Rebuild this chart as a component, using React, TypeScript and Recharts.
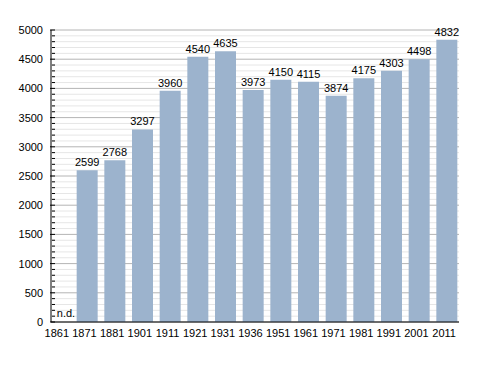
import React from "react";
import { BarChart, Bar, XAxis, YAxis, CartesianGrid, LabelList, ReferenceDot } from "recharts";

const years = ["1861", "1871", "1881", "1901", "1911", "1921", "1931", "1936", "1951", "1961", "1971", "1981", "1991", "2001", "2011"];
const population = [0, 2599, 2768, 3297, 3960, 4540, 4635, 3973, 4150, 4115, 3874, 4175, 4303, 4498, 4832];
const barLabels = ["n.d.", "2599", "2768", "3297", "3960", "4540", "4635", "3973", "4150", "4115", "3874", "4175", "4303", "4498", "4832"];
const yTicks: number[] = [];
for (let v = 0; v <= 5000; v += 100) yTicks.push(v);

const data = years.map((y, i) => ({ year: y, value: population[i], label: barLabels[i] }));

const FONT = "Liberation Sans, Arial, sans-serif";

const YTick = (props: any) => {
  const { x, y, payload } = props;
  const v = payload.value;
  const major = v % 500 === 0;
  const ax = x + 12;
  return (
    <g>
      <line x1={ax - (major ? 5 : 3)} x2={ax} y1={y} y2={y} stroke="#000" strokeWidth={1} />
      {major && (
        <text x={ax - 12} y={y} textAnchor="end" dominantBaseline="central" fontSize={11} fill="#000" fontFamily={FONT}>
          {v}
        </text>
      )}
    </g>
  );
};

const XTick = (props: any) => {
  const { x, y, payload } = props;
  return (
    <text x={x - 3} y={y + 3} textAnchor="middle" dominantBaseline="central" fontSize={11} fill="#000" fontFamily={FONT}>
      {payload.value}
    </text>
  );
};

const GridLine = (props: any) => {
  const { x1, x2, y1, y2, index } = props;
  const major = (yTicks[index] ?? 0) % 500 === 0;
  return <line x1={x1} x2={x2} y1={y1} y2={y2} stroke={major ? "#b4b4b4" : "#e6e6e6"} strokeWidth={1} />;
};

const BarLabel = (props: any) => {
  const { x, y, width, value } = props;
  if (value === "n.d.") return null;
  return (
    <text x={x + width / 2} y={y - 4} textAnchor="middle" fontSize={11} fill="#000" fontFamily={FONT}>
      {value}
    </text>
  );
};

const NdLabel = (props: any) => {
  const { cx, cy } = props;
  return (
    <text x={cx - 3} y={cy - 5} fontSize={11} fill="#000" fontFamily={FONT}>
      {barLabels[0]}
    </text>
  );
};

export default function App() {
  return (
    <div style={{ position: "absolute", left: 0, top: 0 }}>
      <BarChart width={488} height={373} data={data} margin={{ top: 30, right: 29, bottom: 21, left: 1 }} barSize={21}>
        <CartesianGrid vertical={false} horizontal={(p: any) => <GridLine {...p} />} horizontalValues={yTicks} />
        <XAxis
          dataKey="year"
          tickLine={false}
          axisLine={{ stroke: "#000" }}
          tick={<XTick />}
          interval={0}
          height={30}
          padding={{ left: -5, right: -2 }}
        />
        <YAxis domain={[0, 5000]} ticks={yTicks} interval={0} width={50} tickLine={false} axisLine={{ stroke: "#000" }} tick={<YTick />} />
        <Bar dataKey="value" fill="#9cb3cd" isAnimationActive={false}>
          <LabelList dataKey="label" content={<BarLabel />} />
        </Bar>
        <ReferenceDot x={years[0]} y={0} r={0} shape={<NdLabel />} ifOverflow="visible" />
      </BarChart>
    </div>
  );
}
